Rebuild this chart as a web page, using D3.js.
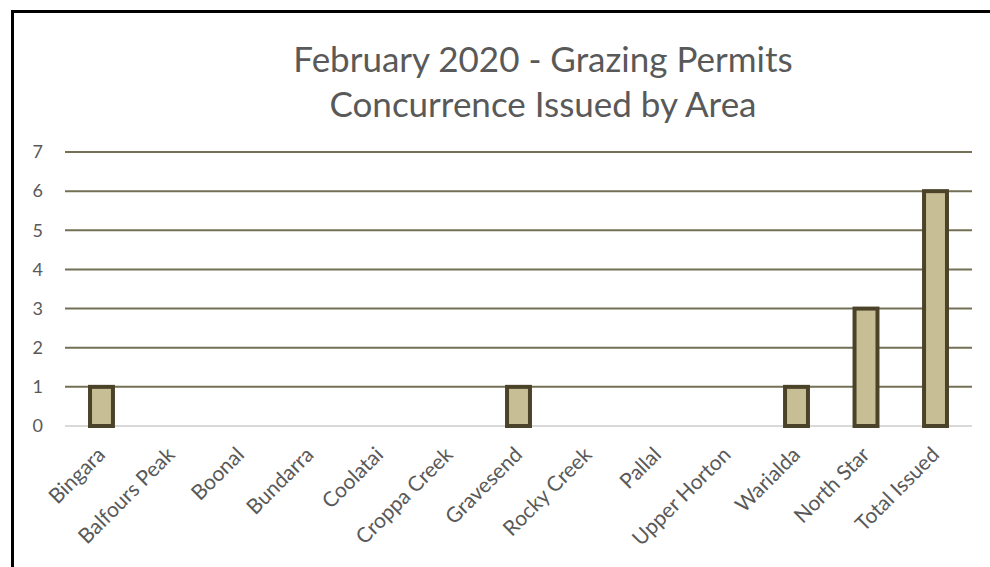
<!DOCTYPE html>
<meta charset="utf-8">
<style>
  body { margin: 0; background: #fff; }
  svg { display: block; font-family: Lato, "Open Sans", sans-serif; }
</style>
<script src="https://d3js.org/d3.v7.min.js"></script>
<div id="chart"></div>
<script>

// data
var areas = ["Bingara", "Balfours Peak", "Boonal", "Bundarra", "Coolatai", "Croppa Creek",
             "Gravesend", "Rocky Creek", "Pallal", "Upper Horton", "Warialda", "North Star", "Total Issued"];
var permits = [1, 0, 0, 0, 0, 0, 1, 0, 0, 0, 1, 3, 6];
var yTicks = [0, 1, 2, 3, 4, 5, 6, 7];
var titleLines = ["February 2020 - Grazing Permits", "Concurrence Issued by Area"];

var W = 990, H = 567;
var margin = {top: 152, right: 18, bottom: 141, left: 65},
    width = W - margin.left - margin.right,
    height = H - margin.top - margin.bottom;

var svg = d3.select("#chart").append("svg")
    .attr("width", W)
    .attr("height", H);

// outer black frame (runs off the right and bottom)
svg.append("rect")
    .attr("x", 12.5).attr("y", 11.5)
    .attr("width", W).attr("height", H)
    .attr("fill", "none")
    .attr("stroke", "#000")
    .attr("stroke-width", 3);

// title
svg.append("g").selectAll("text")
  .data(titleLines)
  .enter().append("text")
    .attr("x", 543)
    .attr("y", function(d, i) { return 72 + i * 45; })
    .attr("text-anchor", "middle")
    .attr("font-size", 35)
    .attr("fill", "#595959")
    .text(function(d) { return d; });

var g = svg.append("g")
    .attr("transform", "translate(" + margin.left + "," + margin.top + ")");

var x = d3.scaleBand()
    .domain(areas)
    .range([0, width])
    .paddingInner(0.67)
    .paddingOuter(0.36);

var y = d3.scaleLinear()
    .domain([0, 7])
    .range([height, 0]);

// gridlines
g.append("g")
  .selectAll("line")
  .data(yTicks)
  .enter().append("line")
    .attr("x1", 0)
    .attr("x2", width)
    .attr("y1", function(d) { return y(d); })
    .attr("y2", function(d) { return y(d); })
    .attr("stroke", function(d) { return d === 0 ? "#d9d9d9" : "#737055"; })
    .attr("stroke-width", 2);

// y axis labels
var yAxis = g.append("g")
    .attr("transform", "translate(-22,0)")
    .call(d3.axisLeft(y).tickValues(yTicks).tickFormat(d3.format("d")).tickSize(0).tickPadding(0));
yAxis.select(".domain").remove();
yAxis.selectAll("text")
    .attr("font-family", "Lato, sans-serif")
    .attr("font-size", 18)
    .attr("fill", "#595959");

// bars (zero values draw nothing)
var rows = areas.map(function(a, i) { return {area: a, value: permits[i]}; });
g.append("g")
  .selectAll("rect")
  .data(rows.filter(function(d) { return d.value > 0; }))
  .enter().append("rect")
    .attr("x", function(d) { return x(d.area); })
    .attr("y", function(d) { return y(d.value); })
    .attr("width", x.bandwidth())
    .attr("height", function(d) { return y(0) - y(d.value); })
    .attr("fill", "#c8be96")
    .attr("stroke", "#4b4329")
    .attr("stroke-width", 4);

// x axis labels
var xAxis = g.append("g")
    .attr("transform", "translate(0," + height + ")")
    .call(d3.axisBottom(x).tickSize(0).tickPadding(0));
xAxis.select(".domain").remove();
xAxis.selectAll("text")
    .attr("font-family", "Lato, sans-serif")
    .attr("font-size", 21)
    .attr("fill", "#595959")
    .attr("text-anchor", "end")
    .attr("y", 0)
    .attr("dy", 0)
    .attr("transform", "translate(5,30) rotate(-45)");

</script>
